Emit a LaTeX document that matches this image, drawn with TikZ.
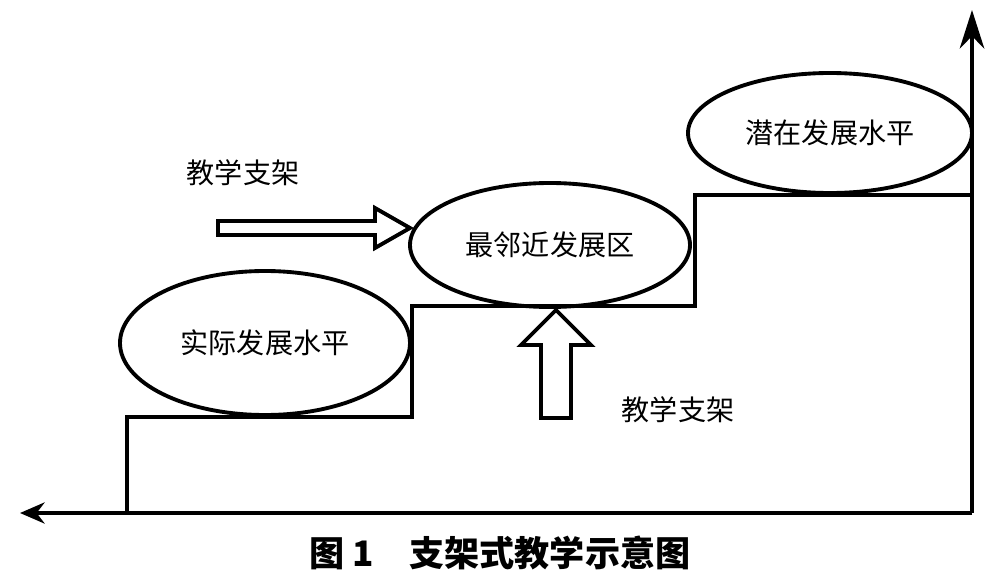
\documentclass[tikz,border=0pt]{standalone}
\usepackage{fontspec}
\newfontfamily\cjk{Noto Sans CJK SC}
\usetikzlibrary{arrows.meta}
\begin{document}
\begin{tikzpicture}[x=0.02cm,y=-0.02cm,
  ln/.style={line width=2.2pt,black},
  ell/.style={ln,ellipse,draw},
  lbl/.style={font=\cjk\fontsize{16}{18}\selectfont}]
\useasboundingbox (0,0) rectangle (1001,588);
\coordinate (o) at (972,513);
\coordinate (xl) at (20,513);
\coordinate (yt) at (972,10);
\draw[ln,-{Stealth[length=14pt,width=12pt]}] (o) -- (xl);
\draw[ln,-{Stealth[length=22pt,width=14pt]}] (o) -- (yt);
\draw[ln] (127,513) -- (127,417) -- (412,417) -- (412,306) -- (695,306) -- (695,195) -- (972,195);
\draw[ln] (265,343) ellipse [x radius=145,y radius=72];
\node[lbl] (a) at (265,343) {实际发展水平};
\draw[ln] (550,245) ellipse [x radius=140,y radius=62];
\node[lbl] (b) at (550,245) {最邻近发展区};
\draw[ln] (830,133) ellipse [x radius=142,y radius=60];
\node[lbl] (c) at (830,133) {潜在发展水平};
\node[lbl] (t1) at (243,173) {教学支架};
\node[lbl] (t2) at (678,410) {教学支架};
\draw[ln,line join=miter] (218,221) -- (375,221) -- (375,208) -- (410,228) -- (375,248) -- (375,235) -- (218,235) -- cycle;
\draw[ln,line join=miter] (541,418) -- (541,345) -- (521,345) -- (556,310) -- (591,345) -- (571,345) -- (571,418) -- cycle;
\node[font=\cjk\fontsize{20}{22}\selectfont\bfseries] (cap) at (500,553) {图 1\quad 支架式教学示意图};
\end{tikzpicture}
\end{document}
